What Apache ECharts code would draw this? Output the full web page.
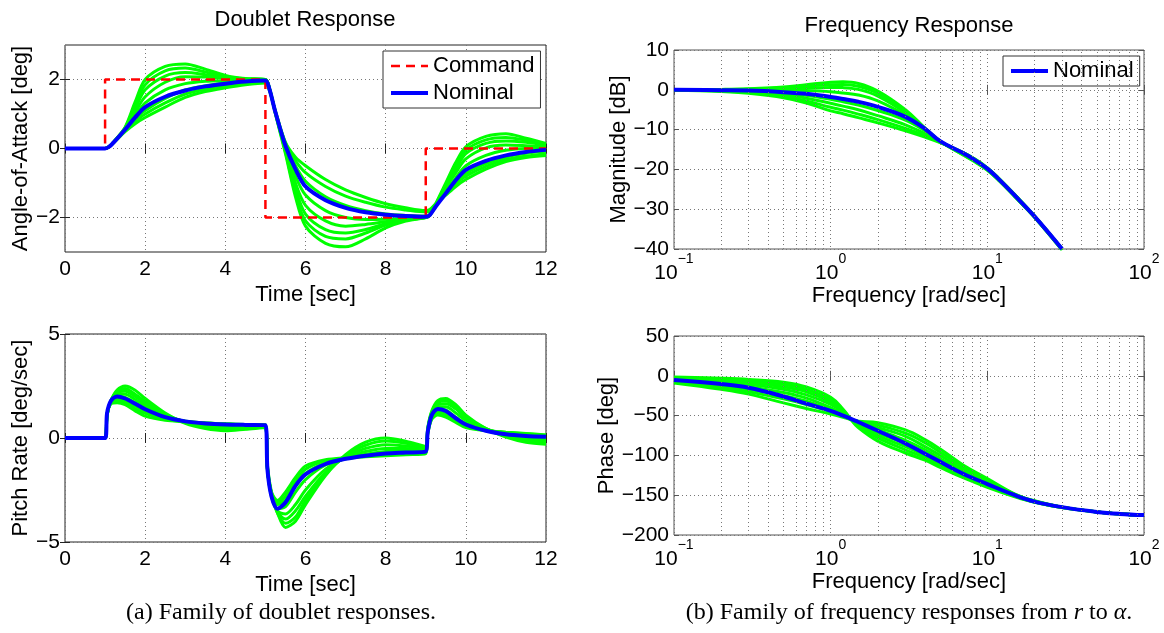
<!DOCTYPE html>
<html><head><meta charset="utf-8">
<script src="https://cdn.jsdelivr.net/npm/echarts@6/dist/echarts.min.js"></script>
<style>html,body{margin:0;padding:0;background:#fff}#c{width:1164px;height:633px}</style>
</head><body><div id="c"></div>
<script>
// ---------- Doublet response: angle of attack ----------
const timeA = [0,1,1.1,1.25,1.5,1.75,2,2.5,3,3.5,4,4.5,5,5.1,5.25,5.5,5.75,6,6.5,7,7.5,8,8.5,9,9.1,9.25,9.5,9.75,10,10.5,11,11.5,12];
const cmdTime = [0,1,1,5,5,9,9,12];
const cmdAlpha = [0,0,2,2,-2,-2,0,0];
const alphaNominal = [0,0,0.05,0.22,0.55,0.9,1.2,1.5,1.68,1.8,1.88,1.94,1.97, 1.72,1.05,0.08,-0.6,-1.1,-1.5,-1.72,-1.85,-1.92,-1.96,-1.98, -1.93,-1.68,-1.3,-0.92,-0.62,-0.36,-0.2,-0.1,-0.04];
const alphaFam1 = [0,0,0.05,0.24,0.62,1.35,2.0,2.38,2.45,2.3,2.12,2.03,2.0, 1.75,1.0,-0.15,-1.4,-2.25,-2.75,-2.85,-2.62,-2.3,-2.1,-2.0, -1.93,-1.6,-1.0,-0.4,0.05,0.35,0.43,0.3,0.15];
const alphaFam2 = [0,0,0.05,0.24,0.6,1.25,1.85,2.25,2.33,2.22,2.08,2.02,2.0, 1.75,1.02,-0.1,-1.3,-2.1,-2.55,-2.62,-2.45,-2.22,-2.08,-2.0, -1.93,-1.62,-1.05,-0.5,-0.05,0.25,0.32,0.24,0.12];
const alphaFam3 = [0,0,0.05,0.23,0.58,1.15,1.7,2.1,2.2,2.14,2.06,2.01,2.0, 1.74,1.03,-0.05,-1.15,-1.9,-2.35,-2.45,-2.35,-2.18,-2.06,-2.0, -1.93,-1.64,-1.1,-0.6,-0.15,0.15,0.22,0.18,0.1];
const alphaFam4 = [0,0,0.05,0.23,0.57,1.05,1.5,1.92,2.08,2.07,2.03,2.0,1.99, 1.74,1.04,0.0,-1.0,-1.65,-2.1,-2.25,-2.2,-2.12,-2.04,-2.0, -1.93,-1.66,-1.15,-0.7,-0.3,0.02,0.1,0.08,0.05];
const alphaFam5 = [0,0,0.05,0.22,0.55,0.95,1.32,1.7,1.88,1.95,1.97,1.98,1.98, 1.73,1.05,0.05,-0.8,-1.35,-1.8,-2.0,-2.06,-2.05,-2.02,-2.0, -1.93,-1.68,-1.25,-0.85,-0.5,-0.2,-0.05,0.0,0.0];
const alphaFam6 = [0,0,0.05,0.22,0.53,0.85,1.1,1.45,1.7,1.82,1.9,1.94,1.96, 1.72,1.06,0.1,-0.5,-0.95,-1.4,-1.65,-1.8,-1.9,-1.94,-1.96, -1.92,-1.66,-1.28,-0.96,-0.72,-0.44,-0.25,-0.14,-0.08];
const alphaFam7 = [0,0,0.05,0.21,0.51,0.78,1.0,1.32,1.58,1.72,1.82,1.88,1.92, 1.7,1.07,0.15,-0.35,-0.7,-1.1,-1.38,-1.56,-1.7,-1.78,-1.84, -1.81,-1.62,-1.3,-1.02,-0.8,-0.52,-0.32,-0.22,-0.15];
const alphaFam8 = [0,0,0.05,0.21,0.49,0.72,0.9,1.2,1.48,1.65,1.76,1.85,1.9, 1.68,1.08,0.18,-0.25,-0.5,-0.9,-1.2,-1.42,-1.6,-1.72,-1.8, -1.77,-1.6,-1.35,-1.1,-0.9,-0.6,-0.38,-0.26,-0.2];

// ---------- Doublet response: pitch rate ----------
const timeQ = [0,1,1.05,1.15,1.3,1.5,1.75,2,2.5,3,3.5,4,4.5,5, 5.05,5.15,5.3,5.5,5.75,6,6.5,7,7.5,8,8.5,9, 9.05,9.15,9.3,9.5,9.75,10,10.5,11,11.5,12];
const qNominal = [0,0,1.2,1.8,2.0,1.9,1.65,1.38,1.0,0.8,0.7,0.65,0.63,0.62, -1.5,-2.8,-3.4,-3.1,-2.3,-1.75,-1.25,-1.0,-0.85,-0.75,-0.7,-0.65, 0.3,1.1,1.4,1.3,0.95,0.65,0.35,0.18,0.1,0.06];
const qFam1 = [0,0,1.1,1.8,2.3,2.5,2.3,1.9,1.2,0.7,0.45,0.35,0.42,0.5, -1.3,-2.6,-3.6,-4.3,-4.0,-3.2,-1.8,-0.8,-0.2,0.0,-0.15,-0.4, 0.5,1.3,1.8,1.9,1.6,1.1,0.45,0.05,-0.2,-0.3];
const qFam2 = [0,0,1.1,1.8,2.25,2.38,2.1,1.75,1.15,0.75,0.52,0.42,0.45,0.52, -1.4,-2.7,-3.6,-4.1,-3.8,-3.0,-1.75,-0.85,-0.35,-0.15,-0.25,-0.45, 0.45,1.25,1.7,1.78,1.5,1.0,0.45,0.1,-0.12,-0.22];
const qFam3 = [0,0,1.1,1.8,2.2,2.25,2.0,1.65,1.1,0.78,0.58,0.5,0.5,0.55, -1.4,-2.7,-3.5,-3.9,-3.5,-2.8,-1.65,-0.9,-0.5,-0.32,-0.38,-0.5, 0.4,1.2,1.6,1.65,1.4,0.95,0.45,0.15,-0.05,-0.12];
const qFam4 = [0,0,1.1,1.8,2.1,2.1,1.85,1.55,1.05,0.8,0.65,0.58,0.56,0.58, -1.45,-2.75,-3.5,-3.65,-3.2,-2.5,-1.5,-0.95,-0.65,-0.5,-0.5,-0.55, 0.35,1.15,1.5,1.5,1.2,0.85,0.42,0.18,0.03,-0.03];
const qFam5 = [0,0,1.15,1.8,2.0,1.95,1.7,1.42,1.0,0.8,0.7,0.64,0.62,0.6, -1.5,-2.8,-3.4,-3.3,-2.6,-2.0,-1.3,-1.0,-0.78,-0.65,-0.6,-0.6, 0.3,1.1,1.4,1.35,1.0,0.7,0.38,0.2,0.1,0.04];
const qFam6 = [0,0,1.15,1.75,1.9,1.82,1.55,1.3,0.95,0.8,0.72,0.67,0.64,0.62, -1.5,-2.7,-3.2,-3.0,-2.3,-1.7,-1.2,-1.0,-0.85,-0.75,-0.7,-0.68, 0.25,1.0,1.25,1.15,0.88,0.6,0.37,0.25,0.17,0.1];
const qFam7 = [0,0,1.15,1.7,1.8,1.7,1.42,1.18,0.9,0.78,0.72,0.68,0.65,0.63, -1.5,-2.65,-3.1,-2.8,-2.1,-1.5,-1.1,-0.97,-0.88,-0.8,-0.76,-0.72, 0.22,0.95,1.15,1.05,0.8,0.55,0.36,0.27,0.2,0.13];
const qFam8 = [0,0,1.15,1.65,1.7,1.6,1.3,1.05,0.85,0.78,0.72,0.68,0.65,0.62, -1.5,-2.6,-3.0,-2.6,-1.9,-1.35,-1.05,-0.95,-0.9,-0.85,-0.8,-0.75, 0.2,0.9,1.1,1.0,0.75,0.5,0.35,0.28,0.22,0.15];

// ---------- Frequency response: magnitude ----------
const freqMag = [0.1,0.2,0.3,0.5,0.7,1,1.2,1.5,2,3,4,5,7,8,10,12,15,20,30];
const magNominal = [0,-0.1,-0.2,-0.6,-1.0,-1.8,-2.3,-3.0,-4.3,-6.8,-9.8,-12.9,-15.9,-17.2,-19.8,-22.7,-26.6,-31.8,-40];
const magFam1 = [0,0.1,0.25,0.7,1.3,1.9,2.0,1.6,-0.3,-5.0,-9.6,-12.9,-16.4,-17.7,-20.2,-23.0,-26.9,-32.0,-40.3];
const magFam2 = [0,0.08,0.2,0.5,0.9,1.3,1.35,0.9,-0.9,-5.4,-9.7,-12.9,-16.3,-17.6,-20.1,-22.9,-26.8,-32.0,-40.2];
const magFam3 = [0,0.05,0.1,0.3,0.5,0.6,0.55,0.1,-1.6,-5.8,-9.8,-12.9,-16.2,-17.5,-20.0,-22.8,-26.7,-31.9,-40.1];
const magFam4 = [0,0,0,-0.05,-0.2,-0.5,-0.8,-1.3,-2.8,-6.4,-9.9,-12.9,-16.0,-17.3,-19.9,-22.7,-26.6,-31.9,-40];
const magFam5 = [0,-0.1,-0.3,-0.8,-1.4,-2.4,-3.0,-3.8,-5.2,-7.6,-10.3,-13.0,-15.9,-17.2,-19.8,-22.6,-26.5,-31.8,-40];
const magFam6 = [0,-0.2,-0.5,-1.2,-2.1,-3.4,-4.1,-5.0,-6.5,-8.8,-11.0,-13.1,-15.8,-17.1,-19.7,-22.6,-26.5,-31.8,-40];
const magFam7 = [-0.05,-0.3,-0.7,-1.6,-2.8,-4.4,-5.1,-6.1,-7.5,-9.7,-11.5,-13.2,-15.8,-17.0,-19.6,-22.5,-26.4,-31.7,-40];
const magFam8 = [-0.1,-0.4,-0.9,-2.0,-3.3,-5.3,-6.0,-7.0,-8.3,-10.3,-11.9,-13.3,-15.8,-17.0,-19.6,-22.5,-26.4,-31.7,-40];

// ---------- Frequency response: phase ----------
const freqPh = [0.1,0.2,0.3,0.5,0.7,1,1.2,1.35,1.5,2,3,4,5,7,10,15,20,30,50,70,100];
const phNominal = [-5.4,-10.4,-15,-26,-35,-44,-50,-54,-58,-69,-85,-98,-108,-123,-136,-150,-158,-165,-171,-173.5,-175];
const phFam1 = [-1.5,-3,-4.5,-8,-14,-27,-42,-55,-65,-82,-97,-106,-115,-128,-140,-152,-159,-165.5,-171,-173.5,-175];
const phFam2 = [-2.5,-4.5,-6.5,-11,-17,-30,-43,-55,-63,-78,-93,-103,-112,-126,-139,-151.5,-158.5,-165.5,-171,-173.5,-175];
const phFam3 = [-3.5,-6,-8.5,-14,-20,-33,-44,-55,-61,-75,-89,-100,-110,-124,-137.5,-151,-158.5,-165.5,-171,-173.5,-175];
const phFam4 = [-4.5,-8,-11,-17,-24,-36,-46,-55,-60,-72,-85,-97,-107,-122,-136,-150.5,-158,-165,-171,-173.5,-175];
const phFam5 = [-5.5,-10,-14,-21,-28,-40,-48,-55,-59,-68,-81,-93,-104,-120,-135,-150,-158,-165,-171,-173.5,-175];
const phFam6 = [-6.5,-12,-17,-25,-32,-43,-50,-55,-58,-65,-76,-89,-100,-117,-133,-149.5,-157.5,-165,-171,-173.5,-175];
const phFam7 = [-8,-14.5,-20,-29,-36,-45,-51,-55,-57.5,-62,-72,-84,-96,-114,-131,-149,-157.5,-165,-171,-173.5,-175];
const phFam8 = [-9,-17,-23,-34,-41,-48,-52,-55,-57,-59,-68,-80,-92,-112,-129,-148.5,-157,-165,-171,-173.5,-175];

// ---------- ticks ----------
const alphaTicks = [-2,0,2];
const logMinorTicks = [0.2,0.3,0.4,0.5,0.6,0.7,0.8,0.9,2,3,4,5,6,7,8,9,20,30,40,50,60,70,80,90];

const SANS = 'Liberation Sans, Arial, Helvetica, sans-serif';
const SERIF = 'Liberation Serif, Times New Roman, serif';
const FS = 21, NFS = 22;
const GREEN = '#00ff00', BLUE = '#0000ff', RED = '#ff0000';

const grids = [
  {left:65, top:45, width:481, height:207},
  {left:65, top:334, width:481, height:208},
  {left:674, top:50, width:470, height:199},
  {left:674, top:336, width:470, height:199}
].map((g,i) => Object.assign({show:true, borderWidth:1, borderColor: i<2 ? '#222' : '#555', containLabel:false}, g));

const minus = v => (v < 0 ? '\u2212' + (-v) : '' + v);
const logLabel = v => { const e = Math.round(Math.log10(v)); return '{b|10}{s|' + (e < 0 ? '\u2212' + (-e) : e) + '}'; };
const splitStyle = {show:true, lineStyle:{color:'#777', type:[1,3], width:1}};
const tickStyle = (c) => ({show:true, inside:true, length:5, lineStyle:{color:c, width:1}});
const nameStyle = {fontSize:NFS, fontFamily:SANS, color:'#000'};
const labStyle = {fontSize:FS, fontFamily:SANS, color:'#000'};

function timeAxis(gi, mirror) {
  return {type:'value', gridIndex:gi, min:0, max:12, interval:2, position: mirror?'top':'bottom',
    axisLine:{show:false}, axisTick:tickStyle('#222'),
    splitLine: mirror ? {show:false} : splitStyle,
    axisLabel: mirror ? {show:false} : Object.assign({margin:7, formatter:minus}, labStyle),
    name: mirror ? '' : 'Time [sec]', nameLocation:'middle', nameGap:32, nameTextStyle:nameStyle};
}
function freqAxis(gi, mirror) {
  return {type:'log', logBase:10, gridIndex:gi, min:0.1, max:100, position: mirror?'top':'bottom',
    axisLine:{show:false}, axisTick:tickStyle('#555'),
    splitLine: mirror ? {show:false} : splitStyle,
    axisLabel: mirror ? {show:false} : {margin:3, formatter:logLabel, color:'#000',
      rich:{b:{fontSize:FS, fontFamily:SANS, color:'#000', padding:[11,0,0,0], verticalAlign:'bottom'},
            s:{fontSize:14, fontFamily:SANS, color:'#000', verticalAlign:'top'}}},
    name: mirror ? '' : 'Frequency [rad/sec]', nameLocation:'middle', nameGap:35, nameTextStyle:nameStyle};
}
function yAxisCfg(gi, mirror, min, max, interval, name, gap, custom, col) {
  const a = {type:'value', gridIndex:gi, min, max, position: mirror?'right':'left',
    axisLine:{show:false}, axisTick:tickStyle(col),
    splitLine: mirror ? {show:false} : splitStyle,
    axisLabel: mirror ? {show:false} : Object.assign({margin:5, formatter:minus}, labStyle),
    name: mirror ? '' : name, nameLocation:'middle', nameGap:gap, nameTextStyle:nameStyle};
  if (interval) a.interval = interval;
  if (custom) { a.axisTick.customValues = custom; if (!mirror) a.axisLabel.customValues = custom; }
  return a;
}

const xAxes = [timeAxis(0,false), timeAxis(1,false), freqAxis(2,false), freqAxis(3,false),
               timeAxis(0,true), timeAxis(1,true), freqAxis(2,true), freqAxis(3,true)];
const yAxes = [
  yAxisCfg(0,false,-3,3,null,'Angle-of-Attack [deg]',33,alphaTicks,'#222'),
  yAxisCfg(1,false,-5,5,5,'Pitch Rate [deg/sec]',33,null,'#222'),
  yAxisCfg(2,false,-40,10,10,'Magnitude [dB]',37,null,'#555'),
  yAxisCfg(3,false,-200,50,50,'Phase [deg]',56,null,'#555'),
  yAxisCfg(0,true,-3,3,null,'',0,alphaTicks,'#222'),
  yAxisCfg(1,true,-5,5,5,'',0,null,'#222'),
  yAxisCfg(2,true,-40,10,10,'',0,null,'#555'),
  yAxisCfg(3,true,-200,50,50,'',0,null,'#555')
];

function line(name, xs, ys, gi, color, width, extra) {
  return Object.assign({type:'line', name, xAxisIndex:gi, yAxisIndex:gi,
    data: xs.map((x,i) => [x, ys[i]]), symbol:'none', showSymbol:false, smooth: gi >= 2 ? 0.4 : 0.3,
    lineStyle:{color, width}, itemStyle:{color}, silent:true, animation:false, z:2}, extra || {});
}

const series = [];
// minor log grid lines
[2,3].forEach(gi => series.push({type:'line', name:'minor', xAxisIndex:gi, yAxisIndex:gi, data:[], z:1, silent:true, animation:false,
  markLine:{silent:true, symbol:['none','none'], animation:false, label:{show:false},
    lineStyle:{color:'#777', type:[1,3], width:1}, emphasis:{disabled:true},
    data: logMinorTicks.map(v => ({xAxis:v}))}}));

[alphaFam1,alphaFam2,alphaFam3,alphaFam4,alphaFam5,alphaFam6,alphaFam7,alphaFam8].forEach(a => series.push(line('Family', timeA, a, 0, GREEN, 3)));
[qFam1,qFam2,qFam3,qFam4,qFam5,qFam6,qFam7,qFam8].forEach(a => series.push(line('Family', timeQ, a, 1, GREEN, 3)));
[magFam1,magFam2,magFam3,magFam4,magFam5,magFam6,magFam7,magFam8].forEach(a => series.push(line('Family', freqMag, a, 2, GREEN, 3)));
[phFam1,phFam2,phFam3,phFam4,phFam5,phFam6,phFam7,phFam8].forEach(a => series.push(line('Family', freqPh, a, 3, GREEN, 3)));
series.push(line('Command', cmdTime, cmdAlpha, 0, RED, 2.5, {smooth:false, lineStyle:{color:RED, width:2.5, type:[9,6]}, z:3}));
series.push(line('Nominal', timeA, alphaNominal, 0, BLUE, 4, {z:4}));
series.push(line('Nominal', timeQ, qNominal, 1, BLUE, 4, {z:4}));
series.push(line('Nominal', freqMag, magNominal, 2, BLUE, 4, {z:4}));
series.push(line('Nominal', freqPh, phNominal, 3, BLUE, 4, {z:4}));

const legendBase = {orient:'vertical', selectedMode:false, itemWidth:37, itemHeight:14, itemGap:5,
  borderColor:'#333', borderWidth:1, backgroundColor:'#fff', padding:[4,6,4,6],
  itemStyle:{color:'rgba(0,0,0,0)', borderColor:'rgba(0,0,0,0)', borderWidth:0},
  lineStyle:{width:'inherit'},
  textStyle:{fontSize:22, fontFamily:SANS, color:'#000'}};

const txt = (x, y, text, extra) => ({type:'text', x, y, silent:true,
  style:Object.assign({text, fontSize:22, fontFamily:SANS, fill:'#000', align:'center', verticalAlign:'middle', textAlign:'center', textVerticalAlign:'middle'}, extra || {})});

const option = {
  animation:false,
  grid: grids,
  xAxis: xAxes,
  yAxis: yAxes,
  legend: [
    Object.assign({data:['Command','Nominal'], left:383, top:51}, legendBase),
    Object.assign({data:['Nominal'], left:1003, top:56}, legendBase)
  ],
  graphic: [
    txt(305, 20, 'Doublet Response'),
    txt(909, 26, 'Frequency Response'),
    txt(281, 613, '(a) Family of doublet responses.', {fontSize:24, fontFamily:SERIF}),
    txt(909, 613, '(b) Family of frequency responses from {i|r} to {i|\u03b1}.', {fontSize:24, fontFamily:SERIF,
      rich:{i:{fontStyle:'italic', fontSize:24, fontFamily:SERIF, fill:'#000'}}})
  ],
  series
};

const chart = echarts.init(document.getElementById('c'), null, {renderer:'canvas'});
chart.setOption(option);
</script></body></html>
